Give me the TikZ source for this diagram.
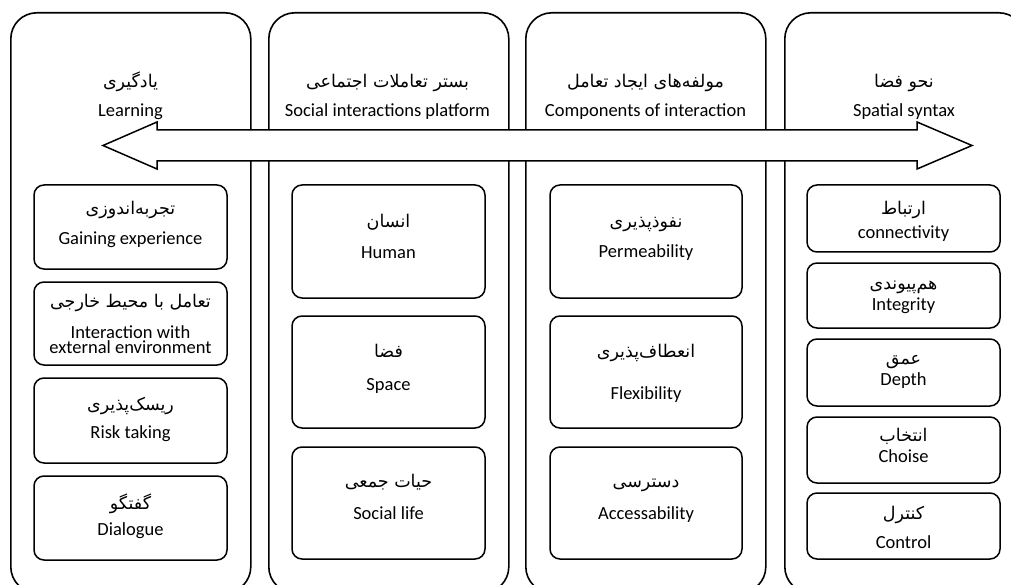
\documentclass[tikz,border=0pt]{standalone}
\usepackage{fontspec}
\setmainfont{Carlito}
\newfontfamily\persfont[Script=Arabic]{DejaVu Sans}
\TeXXeTstate=1
\newcommand\pers[1]{\beginR #1\endR}

\begin{document}
\begin{tikzpicture}[x=1pt,y=-1pt,
  column/.style={draw, line width=1.6pt, rounded corners=26pt, anchor=north west,
                 minimum width=240pt, minimum height=580pt, inner sep=0pt},
  item/.style={draw, line width=1.5pt, rounded corners=10pt, inner sep=0pt},
  en/.style={font=\fontsize{18.5}{19}\selectfont, inner sep=0pt,
             text height=0.7em, text depth=0.2em, yshift=-3pt},
  fa/.style={font=\persfont\fontsize{17.5}{19}\selectfont, inner sep=0pt,
             text height=0.75em, text depth=0.25em},
  twoline/.style={en, align=center, font=\fontsize{18.5}{15}\selectfont,
                  text height=, text depth=}]

\clip (0,0) rectangle (1011,585);
\fill[white] (0,0) rectangle (1011,585);

% the four columns
\node[column] (c1) at (10,12) {};
\node[column] (c2) at (268,12) {};
\node[column] (c3) at (525,12) {};
\node[column] (c4) at (784,12) {};

% double-headed arrow across the columns
\filldraw[fill=white, line width=1.5pt, line join=miter]
  (103,145.5) -- (157,122) -- (157,130) -- (917,130) -- (917,122)
  -- (972,145.5) -- (917,169) -- (917,161) -- (157,161) -- (157,169) -- cycle;

% column headings
\node[fa] (h1fa) at (130.5,85) {\pers{یادگیری}};
\node[en] (h1en) at (130.5,111) {Learning};
\node[fa] (h2fa) at (387.5,85) {\pers{بستر تعاملات اجتماعی}};
\node[en] (h2en) at (387.5,111) {Social interactions platform};
\node[fa] (h3fa) at (645.5,85) {\pers{مولفه‌های ایجاد تعامل}};
\node[en] (h3en) at (645.5,111) {Components of interaction};
\node[fa] (h4fa) at (904,85) {\pers{نحو فضا}};
\node[en] (h4en) at (904,111) {Spatial syntax};

% Learning
\node[item, minimum width=193pt, minimum height=84pt] (l1) at (130.5,227) {};
\node[item, minimum width=193pt, minimum height=83pt] (l2) at (130.5,323.5) {};
\node[item, minimum width=193pt, minimum height=85pt] (l3) at (130.5,420.5) {};
\node[item, minimum width=193pt, minimum height=84pt] (l4) at (130.5,518) {};
\node[fa] (l1fa) at (130.5,212) {\pers{تجربه‌اندوزی}};
\node[en] (l1en) at (130.5,239) {Gaining experience};
\node[fa] (l2fa) at (130.5,305) {\pers{تعامل با محیط خارجی}};
\node[twoline] (l2en) at (130.5,337) {Interaction with\\external environment};
\node[fa] (l3fa) at (130.5,408) {\pers{ریسک‌پذیری}};
\node[en] (l3en) at (130.5,433) {Risk taking};
\node[fa] (l4fa) at (130.5,507) {\pers{گفتگو}};
\node[en] (l4en) at (130.5,530) {Dialogue};

% Social interactions platform
\node[item, minimum width=193pt, minimum height=113pt] (s1) at (388.5,241.5) {};
\node[item, minimum width=193pt, minimum height=112pt] (s2) at (388.5,372) {};
\node[item, minimum width=193pt, minimum height=112pt] (s3) at (388.5,503) {};
\node[fa] (s1fa) at (388.5,225) {\pers{انسان}};
\node[en] (s1en) at (388.5,253) {Human};
\node[fa] (s2fa) at (388.5,355) {\pers{فضا}};
\node[en] (s2en) at (388.5,385) {Space};
\node[fa] (s3fa) at (388.5,485) {\pers{حیات جمعی}};
\node[en] (s3en) at (388.5,514) {Social life};

% Components of interaction
\node[item, minimum width=192pt, minimum height=113pt] (k1) at (646,241.5) {};
\node[item, minimum width=192pt, minimum height=112pt] (k2) at (646,372) {};
\node[item, minimum width=192pt, minimum height=112pt] (k3) at (646,503) {};
\node[fa] (k1fa) at (646,225) {\pers{نفوذپذیری}};
\node[en] (k1en) at (646,252) {Permeability};
\node[fa] (k2fa) at (646,355) {\pers{انعطاف‌پذیری}};
\node[en] (k2en) at (646,394) {Flexibility};
\node[fa] (k3fa) at (646,485) {\pers{دسترسی}};
\node[en] (k3en) at (646,514) {Accessability};

% Spatial syntax
\node[item, minimum width=193pt, minimum height=67pt] (p1) at (903.5,218.5) {};
\node[item, minimum width=193pt, minimum height=65pt] (p2) at (903.5,295.5) {};
\node[item, minimum width=193pt, minimum height=67pt] (p3) at (903.5,372.5) {};
\node[item, minimum width=193pt, minimum height=66pt] (p4) at (903.5,450) {};
\node[item, minimum width=193pt, minimum height=66pt] (p5) at (903.5,526) {};
\node[fa] (p1fa) at (903.5,212) {\pers{ارتباط}};
\node[en] (p1en) at (903.5,233) {connectivity};
\node[fa] (p2fa) at (903.5,287) {\pers{هم‌پیوندی}};
\node[en] (p2en) at (903.5,305) {Integrity};
\node[fa] (p3fa) at (903.5,362) {\pers{عمق}};
\node[en] (p3en) at (903.5,380) {Depth};
\node[fa] (p4fa) at (903.5,439) {\pers{انتخاب}};
\node[en] (p4en) at (903.5,457) {Choise};
\node[fa] (p5fa) at (903.5,517) {\pers{کنترل}};
\node[en] (p5en) at (903.5,543) {Control};

\end{tikzpicture}
\end{document}
